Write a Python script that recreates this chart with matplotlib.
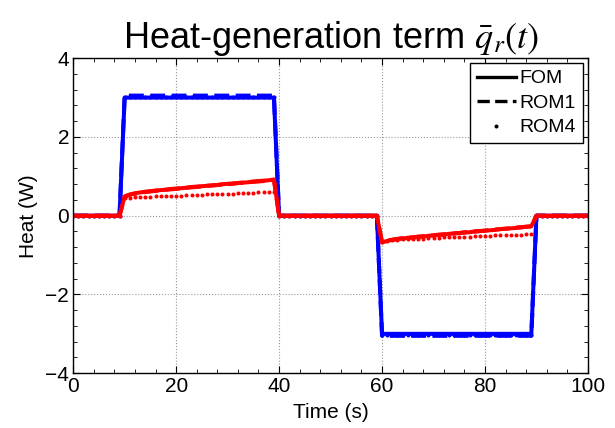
import numpy as np
import matplotlib.pyplot as plt
from matplotlib.lines import Line2D
from matplotlib.ticker import MultipleLocator

plt.rcParams["font.family"] = ["Liberation Sans", "DejaVu Sans"]
plt.rcParams["mathtext.fontset"] = "stix"

# time samples (s), one per second
time = np.arange(0, 101)

# off periods (zeros) and on periods
zeros_a = [0.0] * 10   # t = 0..9
zeros_b = [0.0] * 20   # t = 40..59
zeros_c = [0.0] * 11   # t = 90..100

# blue: input heat, on-period values t = 10..39 and t = 60..89
blue_fom_pos = [3.0] * 30
blue_fom_neg = [-3.0] * 30
blue_rom1_pos = [3.05] * 30
blue_rom1_neg = [-3.05] * 30
blue_rom4_pos = [3.02] * 30
blue_rom4_neg = [-3.02] * 30

# red: heat-generation term
red_fom_pos = [0.49, 0.54, 0.57, 0.59, 0.61, 0.62, 0.64, 0.65, 0.66, 0.68,
               0.69, 0.70, 0.71, 0.73, 0.74, 0.75, 0.76, 0.77, 0.78, 0.80,
               0.81, 0.82, 0.83, 0.84, 0.85, 0.87, 0.88, 0.89, 0.90, 0.92]
red_fom_neg = [-0.68, -0.64, -0.61, -0.59, -0.58, -0.56, -0.55, -0.54, -0.53, -0.51,
               -0.50, -0.49, -0.48, -0.46, -0.45, -0.44, -0.43, -0.42, -0.40, -0.39,
               -0.38, -0.37, -0.36, -0.34, -0.33, -0.32, -0.31, -0.30, -0.28, -0.27]
red_rom1_pos = [0.48, 0.53, 0.56, 0.58, 0.60, 0.62, 0.63, 0.65, 0.66, 0.67,
                0.68, 0.70, 0.71, 0.72, 0.73, 0.74, 0.76, 0.77, 0.78, 0.79,
                0.80, 0.81, 0.83, 0.84, 0.85, 0.86, 0.87, 0.88, 0.90, 0.91]
red_rom1_neg = [-0.67, -0.63, -0.61, -0.59, -0.57, -0.56, -0.55, -0.53, -0.52, -0.51,
                -0.50, -0.48, -0.47, -0.46, -0.45, -0.44, -0.42, -0.41, -0.40, -0.39,
                -0.38, -0.36, -0.35, -0.34, -0.33, -0.32, -0.30, -0.29, -0.28, -0.27]
red_rom4_pos = [0.45, 0.46, 0.47, 0.47, 0.48, 0.48, 0.49, 0.49, 0.50, 0.50,
                0.51, 0.51, 0.52, 0.52, 0.53, 0.53, 0.54, 0.54, 0.55, 0.55,
                0.56, 0.56, 0.57, 0.57, 0.58, 0.58, 0.59, 0.59, 0.60, 0.60]
red_rom4_neg = [-0.66, -0.64, -0.62, -0.61, -0.60, -0.60, -0.59, -0.58, -0.58, -0.57,
                -0.56, -0.56, -0.55, -0.55, -0.54, -0.54, -0.53, -0.53, -0.52, -0.52,
                -0.51, -0.51, -0.50, -0.50, -0.49, -0.49, -0.48, -0.48, -0.47, -0.47]


def full(pos, neg):
    return np.array(zeros_a + pos + zeros_b + neg + zeros_c)


fig = plt.figure(figsize=(6.15, 4.28), dpi=100)
ax = fig.add_axes([0.119, 0.128, 0.837, 0.736])

lw = 2.9
ms = 2.9
ax.plot(time, full(blue_rom4_pos, blue_rom4_neg), linestyle="none", marker="o",
        ms=ms, mew=0, color="blue")
ax.plot(time, full(blue_rom1_pos, blue_rom1_neg), "--", lw=lw, color="blue")
ax.plot(time, full(blue_fom_pos, blue_fom_neg), "-", lw=lw, color="blue")
ax.plot(time, full(red_rom4_pos, red_rom4_neg), linestyle="none", marker="o",
        ms=ms, mew=0, color="red")
ax.plot(time, full(red_rom1_pos, red_rom1_neg), "--", lw=lw, color="red")
ax.plot(time, full(red_fom_pos, red_fom_neg), "-", lw=lw, color="red")

ax.set_xlim(0, 100)
ax.set_ylim(-4, 4)
ax.xaxis.set_major_locator(MultipleLocator(20))
ax.xaxis.set_minor_locator(MultipleLocator(4))
ax.yaxis.set_major_locator(MultipleLocator(2))
ax.yaxis.set_minor_locator(MultipleLocator(0.4))
ax.tick_params(which="both", direction="in", top=True, right=True, labelsize=15)
ax.tick_params(which="major", length=5, pad=3)
ax.tick_params(which="minor", length=3)
ax.grid(True, which="major", linestyle=":", color="#999999", lw=0.8)
for sp in ax.spines.values():
    sp.set_linewidth(1.0)

ax.set_xlabel("Time (s)", fontsize=15, labelpad=5)
ax.set_ylabel("Heat (W)", fontsize=15, labelpad=5)
ax.set_title(r"Heat-generation term $\bar{q}_r(t)$", fontsize=26, pad=6)

handles = [Line2D([], [], color="black", lw=2.4, linestyle="-"),
           Line2D([], [], color="black", lw=2.4, linestyle="--"),
           Line2D([], [], color="black", linestyle="none", marker="o", ms=ms, mew=0)]
leg = ax.legend(handles, ["FOM", "ROM1", "ROM4"], loc="upper right", fontsize=14,
                handlelength=2.0, handletextpad=0.2, borderpad=0.35,
                labelspacing=0.35, fancybox=False, framealpha=1,
                borderaxespad=0.25, numpoints=1)
leg.get_frame().set_edgecolor("black")
leg.get_frame().set_linewidth(1.0)

fig.savefig("out.png", dpi=100)
